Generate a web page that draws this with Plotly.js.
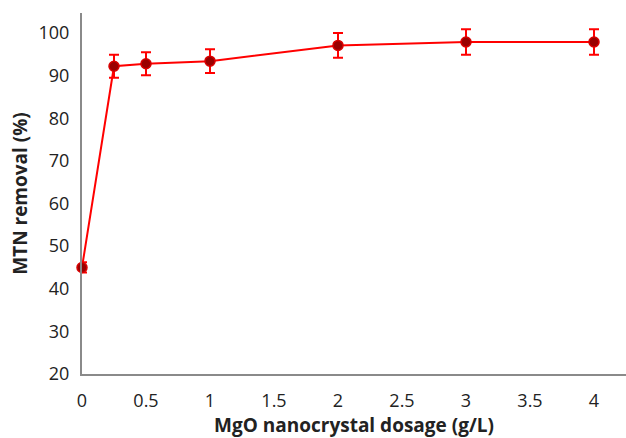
<!DOCTYPE html>
<html><head><meta charset="utf-8">
<script src="https://cdn.plot.ly/plotly-3.0.1.min.js"></script>
<style>html,body{margin:0;padding:0;background:#fff}#chart{width:626px;height:438px}</style>
</head><body><div id="chart"></div>
<script>
const dosage = [0, 0.25, 0.5, 1, 2, 3, 4];
const removal = [45.0, 92.2, 92.8, 93.4, 97.1, 97.9, 97.9];
const errors = [1.2, 2.7, 2.7, 2.8, 2.9, 3.0, 3.0];
const xTicks = [0, 0.5, 1, 1.5, 2, 2.5, 3, 3.5, 4];
const yTicks = [20, 30, 40, 50, 60, 70, 80, 90, 100];

const trace = {
  x: dosage, y: removal, type: 'scatter', mode: 'lines+markers',
  line: {color: '#ff0000', width: 2},
  marker: {color: '#9a0000', size: 10, line: {color: '#d80000', width: 1.5}},
  error_y: {type: 'data', array: errors, visible: true, color: '#ff0000', thickness: 2, width: 5},
  cliponaxis: false, showlegend: false
};
const layout = {
  width: 626, height: 438,
  margin: {l: 82, r: 0, t: 13, b: 64},
  paper_bgcolor: '#fff', plot_bgcolor: '#fff',
  font: {family: 'Open Sans, Liberation Sans, sans-serif', color: '#222', size: 18},
  xaxis: {
    range: [0, 4.25], tickvals: xTicks, ticktext: xTicks.map(String),
    showgrid: false, zeroline: false, showline: true, linecolor: '#8a8a8a', linewidth: 2,
    ticks: 'outside', ticklen: 9, tickcolor: 'rgba(0,0,0,0)', tickfont: {size: 18},
    title: {text: '<b>MgO nanocrystal dosage (g/L)</b>', font: {size: 19}, standoff: 7}
  },
  yaxis: {
    range: [20, 104.7], tickvals: yTicks, ticktext: yTicks.map(String),
    showgrid: false, zeroline: false, showline: true, linecolor: '#8a8a8a', linewidth: 2,
    ticks: 'outside', ticklen: 7, tickcolor: 'rgba(0,0,0,0)', tickfont: {size: 18},
    title: {text: '<b>MTN removal (%)</b>', font: {size: 19}, standoff: 6}
  }
};
Plotly.newPlot('chart', [trace], layout, {displayModeBar: false, staticPlot: true});
</script></body></html>
